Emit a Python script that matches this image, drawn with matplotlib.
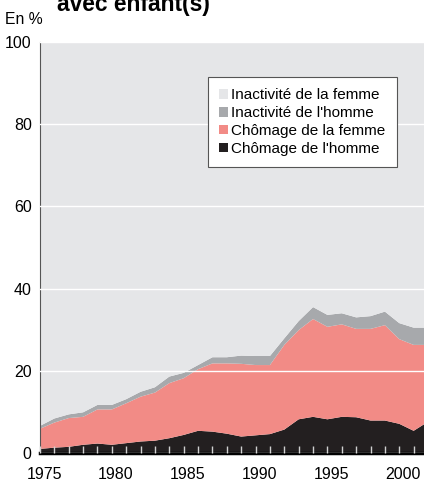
import matplotlib.pyplot as plt
import matplotlib.transforms as mtransforms
from matplotlib.ticker import MultipleLocator

plt.rcParams["font.family"] = ["Liberation Sans", "DejaVu Sans"]

# years shown on the chart
years = list(range(1975, 2003))

# share of couples with child(ren), in %, stacked from bottom to top
chomage_homme = [1.0, 1.3, 1.5, 2.0, 2.3, 2.0, 2.4, 2.8, 3.0, 3.6, 4.4, 5.4, 5.2, 4.7,
                 4.0, 4.3, 4.6, 5.7, 8.2, 8.8, 8.2, 8.8, 8.7, 7.9, 7.9, 7.1, 5.4, 7.6]
chomage_femme = [4.9, 6.1, 7.0, 6.8, 8.3, 8.6, 9.7, 10.9, 11.7, 13.4, 13.8, 15.0, 16.6, 17.1,
                 17.7, 17.1, 16.8, 20.6, 21.7, 23.8, 22.5, 22.5, 21.5, 22.3, 23.2, 20.6, 20.9, 18.7]
inactivite_homme = [0.7, 1.0, 0.9, 1.1, 1.1, 1.1, 1.0, 1.2, 1.3, 1.6, 1.3, 1.0, 1.5, 1.5,
                    2.0, 2.2, 2.2, 1.6, 2.2, 2.9, 2.9, 2.7, 2.8, 3.1, 3.3, 3.9, 4.2, 4.2]
inactivite_femme = [93.4, 91.6, 90.6, 90.1, 88.3, 88.3, 86.9, 85.1, 84.0, 81.4, 80.5, 78.6, 76.7, 76.7,
                    76.3, 76.4, 76.4, 72.1, 67.9, 64.5, 66.4, 66.0, 67.0, 66.7, 65.6, 68.4, 69.5, 69.5]

labels = ["Chômage de l'homme", "Chômage de la femme",
          "Inactivité de l'homme", "Inactivité de la femme"]
colors = ["#231f20", "#f28b86", "#a7a9ac", "#e5e6e8"]

fig = plt.figure(figsize=(4.24, 4.83), dpi=100)
ax = fig.add_axes([40 / 424, 30 / 483, 384 / 424, 411 / 483])

ax.stackplot(years, chomage_homme, chomage_femme, inactivite_homme, inactivite_femme,
             colors=colors, labels=labels, linewidth=0)

ax.set_xlim(1975, 2001.72)
ax.set_ylim(0, 100)

# white grid lines drawn over the areas
ax.set_axisbelow(False)
ax.yaxis.set_major_locator(MultipleLocator(20))
ax.yaxis.grid(True, color="white", linewidth=1.0)
ax.xaxis.grid(False)

ax.xaxis.set_major_locator(MultipleLocator(5))
ax.xaxis.set_minor_locator(MultipleLocator(1))
ax.tick_params(axis="x", which="both", direction="in", length=5, width=1,
               color="#d0d0d0", labelsize=11.5, pad=10)
ax.tick_params(axis="y", length=0, labelsize=11.5, pad=6)

# year labels sit a little right of their ticks
shift = mtransforms.ScaledTranslation(4 / 100, 0, fig.dpi_scale_trans)
for lab in ax.get_xticklabels():
    lab.set_transform(lab.get_transform() + shift)

for side in ["top", "right"]:
    ax.spines[side].set_visible(False)
ax.spines["left"].set_color("#555555")
ax.spines["left"].set_linewidth(0.8)
ax.spines["bottom"].set_color("black")
ax.spines["bottom"].set_linewidth(2.5)

# legend in reverse stacking order
handles, labs = ax.get_legend_handles_labels()
leg = ax.legend(handles[::-1], labs[::-1], loc="upper right", bbox_to_anchor=(0.93, 0.915),
                fontsize=11, frameon=True, fancybox=False, framealpha=1,
                edgecolor="#555555", handlelength=0.6, handleheight=0.6,
                handletextpad=0.2, labelspacing=0.25, borderpad=0.75, borderaxespad=0)
leg.get_frame().set_linewidth(0.8)

fig.text(5 / 424, 1 - 24 / 483, "En %", fontsize=11.3, va="baseline")
fig.text(57 / 424, 1 - 11 / 483, "avec enfant(s)", fontsize=16.4, fontweight="bold", va="baseline")

fig.savefig("out.png", dpi=100)
